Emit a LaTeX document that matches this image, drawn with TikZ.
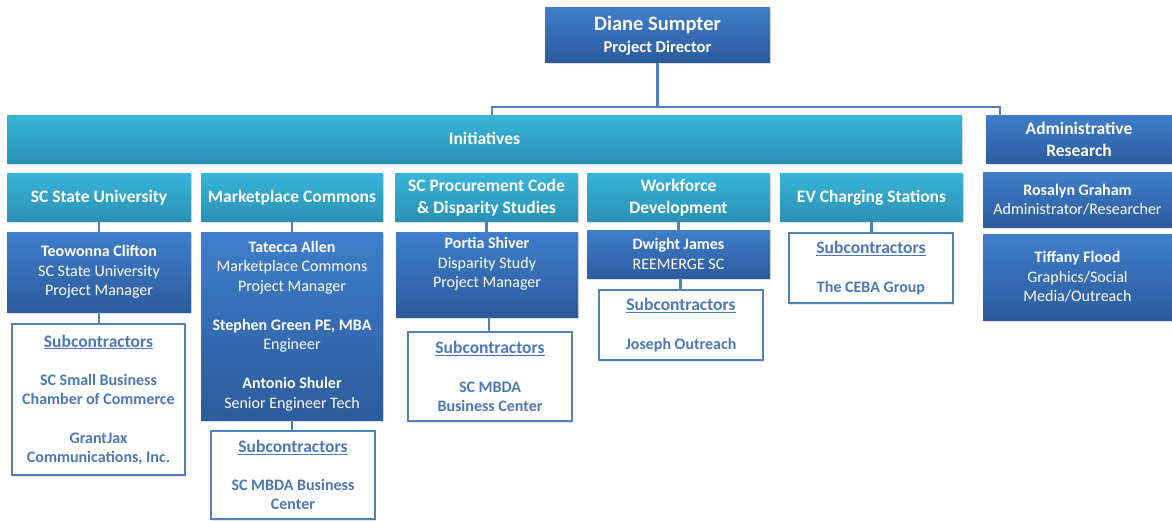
\documentclass[tikz,border=0pt]{standalone}
\usepackage{fontspec}
\setmainfont{Carlito}
\usetikzlibrary{shadows}
\definecolor{cyanT}{HTML}{37B5DA}
\definecolor{cyanB}{HTML}{2A92B4}
\definecolor{blueT}{HTML}{3F7ECC}
\definecolor{blueB}{HTML}{2C5B9C}
\definecolor{lineC}{HTML}{4F81BD}
\definecolor{subT}{HTML}{4C78B6}
\newcommand{\subhead}{{\fontsize{17.5}{19.5}\selectfont\underline{Subcontractors}}}
\tikzset{
  sz/.style 2 args={minimum width=#1pt, minimum height=#2pt},
  boxbase/.style={inner sep=0pt, outer sep=0pt, align=center, text=white,
    drop shadow={opacity=0.25, shadow xshift=1pt, shadow yshift=-1.5pt}},
  cyanbox/.style={boxbase, top color=cyanT, bottom color=cyanB, text depth=1pt, font=\fontsize{17.5}{22}\selectfont\bfseries},
  bluebox/.style={boxbase, top color=blueT, bottom color=blueB, font=\fontsize{16}{19.5}\selectfont},
  whitetext/.style={inner sep=0pt, align=center, text=white, font=\fontsize{16}{19.5}\selectfont},
  subbox/.style={inner sep=0pt, outer sep=0pt, align=center, fill=white, draw=lineC, line width=1.2pt,
    text=subT, font=\fontsize{16}{19}\selectfont\bfseries,
    drop shadow={opacity=0.2, shadow xshift=1pt, shadow yshift=-1.5pt}},
  conn/.style={draw=lineC, line width=2.5pt},
}
\begin{document}
\begin{tikzpicture}[x=1pt,y=-1pt]
\useasboundingbox (0,0) rectangle (1172,520);
% top
\node[bluebox, sz={225}{55}, text depth=1pt, font=\fontsize{20.5}{21}\selectfont\bfseries] (diane) at (657.5,35)
  {Diane Sumpter\\[1pt]{\fontsize{16.5}{18}\selectfont Project Director}};
\node[cyanbox, sz={955}{48}] (init) at (484.5,139) {Initiatives};
\node[cyanbox, top color=blueT, bottom color=blueB, sz={186}{48}] (admin) at (1079,139.5) {Administrative\\Research};
% headers
\node[cyanbox, sz={184}{48}] (h1) at (99,197) {SC State University};
\node[cyanbox, sz={182}{48}] (h2) at (292,197) {Marketplace Commons};
\node[cyanbox, sz={183}{48}] (h3) at (486.5,197) {SC Procurement Code\\\& Disparity Studies};
\node[cyanbox, sz={183}{48}] (h4) at (678.5,197) {Workforce\\Development};
\node[cyanbox, sz={183}{48}] (h5) at (871.5,197) {EV Charging Stations};
% persons
\node[bluebox, sz={184}{80}] (p1) at (99,272)
  {\textbf{Teowonna Clifton}\\SC State University\\Project Manager};
\node[bluebox, sz={182}{188}] (p2) at (292,326)
  {\textbf{Tatecca Allen}\\Marketplace Commons\\Project Manager\\[19.5pt]\textbf{Stephen Green PE, MBA}\\Engineer\\[19.5pt]\textbf{Antonio Shuler}\\Senior Engineer Tech};
\node[bluebox, sz={182}{85}] (p3) at (487,274.5) {};
\node[whitetext] (p3t) at (487,264)
  {\textbf{Portia Shiver}\\Disparity Study\\Project Manager};
\node[bluebox, sz={183}{48}] (p4) at (678.5,254)
  {\textbf{Dwight James}\\REEMERGE SC};
\node[bluebox, sz={189}{55}] (r1) at (1077.5,199.5)
  {\textbf{Rosalyn Graham}\\Administrator/Researcher};
\node[bluebox, sz={189}{86}] (r2) at (1077.5,277)
  {\textbf{Tiffany Flood}\\Graphics/Social\\Media/Outreach};
% subcontractor boxes
\node[subbox, sz={173}{151}] (s1) at (98.5,399.5)
  {\subhead\\[19.5pt]SC Small Business\\Chamber of Commerce\\[19.5pt]GrantJax\\Communications, Inc.};
\node[subbox, sz={164}{88}] (s2) at (293,475)
  {\subhead\\[19.5pt]SC MBDA Business\\Center};
\node[subbox, sz={164}{89}] (s3) at (490,376.5)
  {\subhead\\[19.5pt]SC MBDA\\Business Center};
\node[subbox, sz={164}{70}] (s4) at (681,325)
  {\subhead\\[19.5pt]Joseph Outreach};
\node[subbox, sz={164}{70}] (s5) at (871,268)
  {\subhead\\[19.5pt]The CEBA Group};
% connectors
\coordinate (ja) at (492,107);
\coordinate (jb) at (1000,107);
\draw[conn] (diane.south) -- (diane.south |- ja);
\draw[conn] (ja |- init.north) -- (ja) -- (jb) -- (jb |- admin.north);
\draw[conn] (h1.south) -- (p1.north);
\draw[conn] (p1.south) -- (p1.south |- s1.north);
\draw[conn] (h2.south) -- (p2.north);
\draw[conn] (p2.south) -- (p2.south |- s2.north);
\draw[conn] (h3.south) -- (h3.south |- p3.north);
\draw[conn] ([xshift=2pt]p3.south) -- ([xshift=2pt]p3.south |- s3.north);
\draw[conn] (h4.south) -- (h4.south |- p4.north);
\draw[conn] ([xshift=2pt]p4.south) -- ([xshift=2pt]p4.south |- s4.north);
\draw[conn] (h5.south) -- (h5.south |- s5.north);
\end{tikzpicture}
\end{document}
